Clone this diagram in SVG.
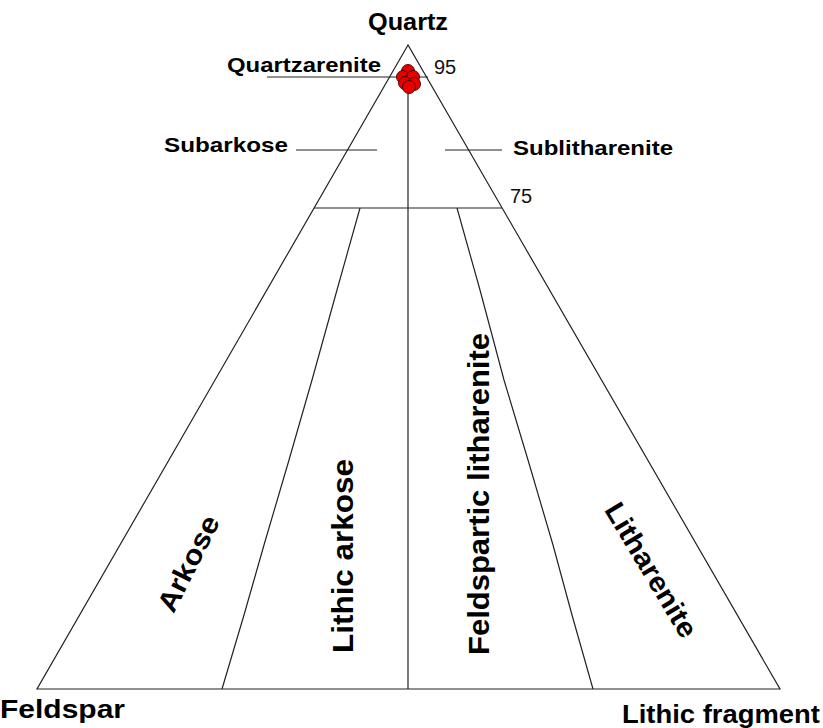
<svg xmlns="http://www.w3.org/2000/svg" width="823" height="728" viewBox="0 0 823 728">
<style>
.ln{stroke:#222;stroke-width:1.2;fill:none}
.lb{font-family:"Liberation Sans",Arial,sans-serif;font-weight:bold;fill:#000}
.nm{font-family:"Liberation Sans",Arial,sans-serif;fill:#111}
.dot{fill:#e60000;stroke:#400;stroke-width:0.9}
</style>
<rect width="823" height="728" fill="#fff"/>
<g id="connectors">
<polygon class="ln" points="408,45 37,689 780,689"/>
<line class="ln" x1="408" y1="72" x2="408" y2="689"/>
<line class="ln" x1="267" y1="77" x2="428" y2="77"/>
<line class="ln" x1="296" y1="150" x2="377" y2="150"/>
<line class="ln" x1="445" y1="150" x2="502" y2="150"/>
<line class="ln" x1="314" y1="208" x2="502" y2="208"/>
<polyline class="ln" points="360,208 337,290 312,380 289,460 264,545 244,615 222,689"/>
<polyline class="ln" points="457,208 480,290 504,380 528,460 553,545 572,615 593,689"/>
</g>
<g id="samples">
<circle class="dot" cx="408" cy="71" r="6.5"/>
<circle class="dot" cx="403" cy="77" r="6.5"/>
<circle class="dot" cx="413" cy="77" r="6.5"/>
<circle class="dot" cx="405" cy="83" r="6.5"/>
<circle class="dot" cx="414" cy="84" r="6.5"/>
<circle class="dot" cx="409" cy="87" r="6.5"/>
</g>
<g id="quartz"><text class="lb" x="408" y="30" font-size="23" text-anchor="middle" textLength="80" lengthAdjust="spacingAndGlyphs">Quartz</text></g>
<g id="quartzarenite"><text class="lb" x="227" y="72" font-size="21" textLength="154" lengthAdjust="spacingAndGlyphs">Quartzarenite</text></g>
<g id="p95"><text class="nm" x="434" y="74" font-size="20">95</text></g>
<g id="subarkose"><text class="lb" x="164" y="152" font-size="21" textLength="124" lengthAdjust="spacingAndGlyphs">Subarkose</text></g>
<g id="sublitharenite"><text class="lb" x="513" y="155" font-size="21" textLength="160" lengthAdjust="spacingAndGlyphs">Sublitharenite</text></g>
<g id="p75"><text class="nm" x="510" y="203" font-size="20">75</text></g>
<g id="arkose"><text class="lb" font-size="28" text-anchor="middle" transform="translate(197,568) rotate(-63)" textLength="104" lengthAdjust="spacingAndGlyphs">Arkose</text></g>
<g id="lithic-arkose"><text class="lb" font-size="30" text-anchor="middle" transform="translate(353,556) rotate(-90)" textLength="194" lengthAdjust="spacingAndGlyphs">Lithic arkose</text></g>
<g id="feldspartic-litharenite"><text class="lb" font-size="30" text-anchor="middle" transform="translate(489,494) rotate(-90)" textLength="322" lengthAdjust="spacingAndGlyphs">Feldspartic litharenite</text></g>
<g id="litharenite"><text class="lb" font-size="28" text-anchor="middle" transform="translate(643,575) rotate(59)" textLength="152" lengthAdjust="spacingAndGlyphs">Litharenite</text></g>
<g id="feldspar"><text class="lb" x="0" y="718" font-size="25" textLength="125" lengthAdjust="spacingAndGlyphs">Feldspar</text></g>
<g id="lithic-fragment"><text class="lb" x="622" y="723" font-size="25" textLength="198" lengthAdjust="spacingAndGlyphs">Lithic fragment</text></g>
</svg>
